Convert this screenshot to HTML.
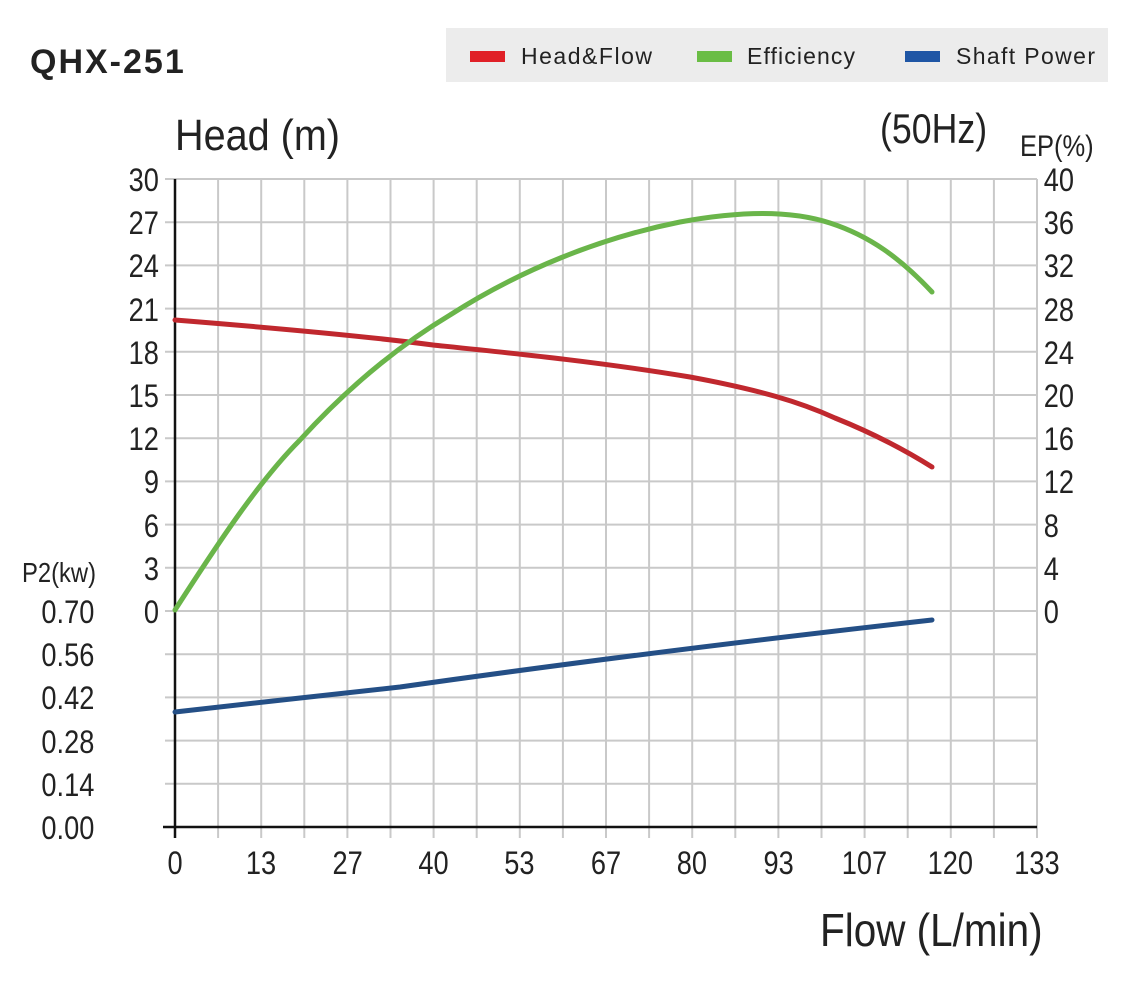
<!DOCTYPE html>
<html><head><meta charset="utf-8"><style>
html,body{margin:0;padding:0;background:#fff;}
svg{display:block;}
text{font-family:"Liberation Sans",sans-serif;fill:#222;}
</style></head><body>
<svg width="1131" height="1000" viewBox="0 0 1131 1000" xmlns="http://www.w3.org/2000/svg">
<text x="30" y="73" font-size="34" font-weight="bold" fill="#1a1a1a" letter-spacing="2">QHX-251</text>
<rect x="446" y="28" width="662" height="54" fill="#ececec"/>
<rect x="470" y="51" width="35" height="11" fill="#e02027"/>
<text x="521" y="64" font-size="23" fill="#333" textLength="131">Head&amp;Flow</text>
<rect x="697" y="51" width="35" height="11" fill="#6abd45"/>
<text x="747" y="64" font-size="23" fill="#333" textLength="108">Efficiency</text>
<rect x="905" y="51" width="35" height="11" fill="#1f56a5"/>
<text x="956" y="64" font-size="23" fill="#333" textLength="139">Shaft Power</text>

<g transform="translate(175,150) scale(0.9,1)"><text x="0" y="0" font-size="44">Head (m)</text></g>
<g transform="translate(880,143) scale(0.85,1)"><text x="0" y="0" font-size="42">(50Hz)</text></g>
<g transform="translate(1020,156) scale(0.85,1)"><text x="0" y="0" font-size="30">EP(%)</text></g>
<g transform="translate(22,582) scale(0.85,1)"><text x="0" y="0" font-size="28">P2(kw)</text></g>
<g transform="translate(820,946) scale(0.88,1)"><text x="0" y="0" font-size="46">Flow (L/min)</text></g>

<g stroke="#c9c9c9" stroke-width="2">
<line x1="218.1" y1="179" x2="218.1" y2="838"/><line x1="261.2" y1="179" x2="261.2" y2="838"/><line x1="304.3" y1="179" x2="304.3" y2="838"/><line x1="347.4" y1="179" x2="347.4" y2="838"/><line x1="390.5" y1="179" x2="390.5" y2="838"/><line x1="433.6" y1="179" x2="433.6" y2="838"/><line x1="476.7" y1="179" x2="476.7" y2="838"/><line x1="519.8" y1="179" x2="519.8" y2="838"/><line x1="562.9" y1="179" x2="562.9" y2="838"/><line x1="606" y1="179" x2="606" y2="838"/><line x1="649.1" y1="179" x2="649.1" y2="838"/><line x1="692.2" y1="179" x2="692.2" y2="838"/><line x1="735.3" y1="179" x2="735.3" y2="838"/><line x1="778.4" y1="179" x2="778.4" y2="838"/><line x1="821.5" y1="179" x2="821.5" y2="838"/><line x1="864.6" y1="179" x2="864.6" y2="838"/><line x1="907.7" y1="179" x2="907.7" y2="838"/><line x1="950.8" y1="179" x2="950.8" y2="838"/><line x1="993.9" y1="179" x2="993.9" y2="838"/><line x1="1037" y1="179" x2="1037" y2="838"/>
<line x1="165" y1="179" x2="1037" y2="179"/><line x1="165" y1="222.2" x2="1037" y2="222.2"/><line x1="165" y1="265.4" x2="1037" y2="265.4"/><line x1="165" y1="308.6" x2="1037" y2="308.6"/><line x1="165" y1="351.8" x2="1037" y2="351.8"/><line x1="165" y1="395" x2="1037" y2="395"/><line x1="165" y1="438.2" x2="1037" y2="438.2"/><line x1="165" y1="481.4" x2="1037" y2="481.4"/><line x1="165" y1="524.6" x2="1037" y2="524.6"/><line x1="165" y1="567.8" x2="1037" y2="567.8"/><line x1="165" y1="611" x2="1037" y2="611"/><line x1="165" y1="654.2" x2="1037" y2="654.2"/><line x1="165" y1="697.4" x2="1037" y2="697.4"/><line x1="165" y1="740.6" x2="1037" y2="740.6"/><line x1="165" y1="783.8" x2="1037" y2="783.8"/>
</g>
<line x1="175" y1="179" x2="175" y2="838" stroke="#111" stroke-width="2.5"/>
<line x1="163" y1="827" x2="1037" y2="827" stroke="#111" stroke-width="2.5"/>

<g font-size="32">
<g transform="scale(0.85,1)">
<text x="187" y="191" text-anchor="end">30</text><text x="187" y="234" text-anchor="end">27</text><text x="187" y="277" text-anchor="end">24</text><text x="187" y="321" text-anchor="end">21</text><text x="187" y="364" text-anchor="end">18</text><text x="187" y="407" text-anchor="end">15</text><text x="187" y="450" text-anchor="end">12</text><text x="187" y="493" text-anchor="end">9</text><text x="187" y="537" text-anchor="end">6</text><text x="187" y="580" text-anchor="end">3</text><text x="187" y="623" text-anchor="end">0</text>
<text x="111" y="623" text-anchor="end">0.70</text><text x="111" y="666" text-anchor="end">0.56</text><text x="111" y="709" text-anchor="end">0.42</text><text x="111" y="753" text-anchor="end">0.28</text><text x="111" y="796" text-anchor="end">0.14</text><text x="111" y="839" text-anchor="end">0.00</text>
<text x="1228" y="191">40</text><text x="1228" y="234">36</text><text x="1228" y="277">32</text><text x="1228" y="321">28</text><text x="1228" y="364">24</text><text x="1228" y="407">20</text><text x="1228" y="450">16</text><text x="1228" y="493">12</text><text x="1228" y="537">8</text><text x="1228" y="580">4</text><text x="1228" y="623">0</text>
<text x="206" y="874" text-anchor="middle">0</text><text x="307" y="874" text-anchor="middle">13</text><text x="409" y="874" text-anchor="middle">27</text><text x="510" y="874" text-anchor="middle">40</text><text x="611" y="874" text-anchor="middle">53</text><text x="713" y="874" text-anchor="middle">67</text><text x="814" y="874" text-anchor="middle">80</text><text x="916" y="874" text-anchor="middle">93</text><text x="1017" y="874" text-anchor="middle">107</text><text x="1118" y="874" text-anchor="middle">120</text><text x="1220" y="874" text-anchor="middle">133</text>
</g></g>

<path d="M175,320 C300,330 380,338 433,345 C520,354 600,362 690,377 C760,390 800,402 835,418 C870,432 900,447 932,467" fill="none" stroke="#c0282e" stroke-width="5" stroke-linecap="round"/>
<path d="M175,610 C220,540 260,480 300,440 C350,385 400,345 450,315 C520,270 600,238 680,222 C740,211 790,210 830,223 C870,236 900,258 932,292" fill="none" stroke="#6ab54a" stroke-width="5" stroke-linecap="round"/>
<path d="M175,712 C260,702 320,696 400,687 C520,670 700,646 932,620" fill="none" stroke="#244f86" stroke-width="5" stroke-linecap="round"/>
</svg>
</body></html>
